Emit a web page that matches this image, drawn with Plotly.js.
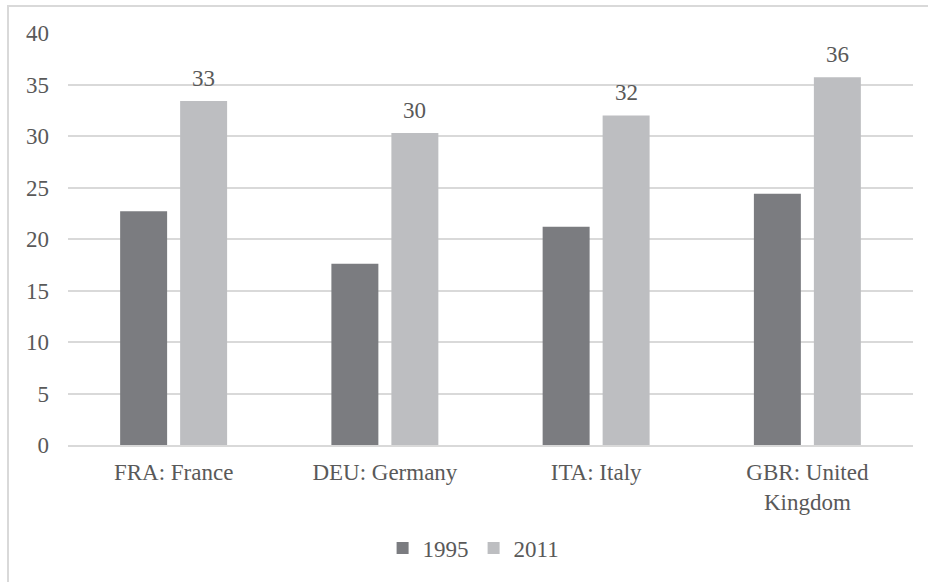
<!DOCTYPE html>
<html>
<head>
<meta charset="utf-8">
<script src="https://cdn.plot.ly/plotly-3.0.1.min.js"></script>
<style>
  html, body { margin: 0; padding: 0; background: #ffffff; overflow: hidden; }
  #chart { position: absolute; left: 0; top: 0; width: 928px; height: 582px; }
  #frame { position: absolute; left: 7px; top: 5px; width: 1000px; height: 1000px;
           border-left: 2px solid #d9d9d9; border-top: 2px solid #d9d9d9; pointer-events: none; }
</style>
</head>
<body>
<div id="chart"></div>
<div id="frame"></div>
<script>
const categories = ["FRA: France", "DEU: Germany", "ITA: Italy", "GBR: United<br>Kingdom"];
const values1995 = [22.7, 17.6, 21.2, 24.4];
const values2011 = [33.4, 30.3, 32.0, 35.7];
const seriesNames = ["1995", "2011"];
const yTicks = [0, 5, 10, 15, 20, 25, 30, 35, 40];

const font = "Liberation Serif, Times New Roman, serif";
const textColor = "#595959";
const fs = 23;

const traces = [
  { type: "bar", name: seriesNames[0], x: categories, y: values1995,
    marker: { color: "#7b7c80" }, hoverinfo: "y" },
  { type: "bar", name: seriesNames[1], x: categories, y: values2011,
    marker: { color: "#bdbec1" }, hoverinfo: "y" }
];

const annotations = categories.map((c, i) => ({
  x: c, y: values2011[i], xref: "x", yref: "y",
  text: String(Math.round(values2011[i])),
  showarrow: false, xanchor: "center", yanchor: "bottom",
  xshift: 30, yshift: 8,
  font: { family: font, size: fs, color: textColor }
}));

const layout = {
  width: 928, height: 582,
  margin: { l: 68, r: 15, t: 33, b: 137 },
  paper_bgcolor: "#ffffff", plot_bgcolor: "#ffffff",
  font: { family: font, size: fs, color: textColor },
  barmode: "group",
  bargap: 0.432,
  bargroupgap: 0.217,
  showlegend: true,
  legend: {
    orientation: "h", x: 0.48, xanchor: "center", y: -0.25, yanchor: "middle",
    font: { family: font, size: fs, color: textColor },
    itemclick: false, itemdoubleclick: false, traceorder: "normal"
  },
  xaxis: {
    type: "category",
    showline: true, linecolor: "#d9d9d9", linewidth: 2,
    showgrid: false, ticks: "", ticklabelstandoff: 5,
    tickfont: { family: font, size: fs, color: textColor },
    fixedrange: true
  },
  yaxis: {
    range: [0, 40], tickvals: yTicks, ticktext: yTicks.map(String),
    showgrid: true, gridcolor: "#d9d9d9", gridwidth: 2,
    zeroline: false, showline: false, ticks: "",
    ticklabelstandoff: 18,
    tickfont: { family: font, size: fs, color: textColor },
    fixedrange: true
  },
  annotations: annotations
};

Plotly.newPlot("chart", traces, layout, { displayModeBar: false, staticPlot: true });
</script>
</body>
</html>
